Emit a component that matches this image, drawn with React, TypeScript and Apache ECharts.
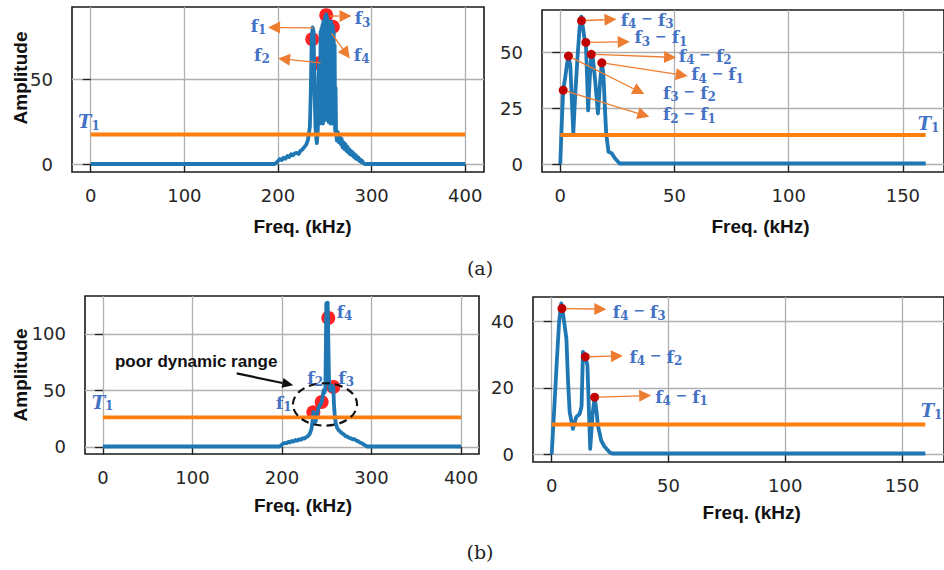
import React, { useEffect, useRef } from "react";
import * as echarts from "echarts";

// ---------------- data ----------------
// (a) left : received spectrum, 4 tones
const freqA1 = [0, 196, 198, 200, 202, 204, 206, 208, 210, 212, 214, 216, 218, 220, 222, 224, 226, 228, 230, 232, 234, 235, 236, 237, 238, 239, 240, 241, 241.5, 242.5, 243, 243.6, 244, 244.5, 245, 245.5, 246, 246.5, 247, 247.5, 248, 248.5, 249, 249.5, 250, 250.5, 251, 251.5, 252, 252.5, 253, 253.5, 254, 254.5, 255, 255.5, 256, 256.5, 257, 257.5, 258, 258.6, 259, 259.5, 260, 260.5, 261, 261.5, 262, 263, 264, 265, 266, 267, 268, 269, 270, 271, 272, 273, 274, 275, 276, 277, 278, 279, 280, 281, 282, 283, 284, 285, 286, 287, 288, 289, 290, 291, 293, 400];
const ampA1 = [0.3, 0.3, 0.8, 2, 3.2, 2.6, 4, 3.4, 5, 4.4, 6, 5.4, 6.6, 6.8, 6.2, 8, 8.8, 10.2, 11.5, 14.5, 22, 42, 74, 80.5, 78, 45, 22, 15, 12.5, 20, 45, 59.4, 38, 24, 30, 78, 26, 80, 28, 82, 24, 84, 30, 85, 26, 87, 32, 88, 28, 86, 30, 84, 25, 83, 28, 82, 24, 84, 27, 82, 24, 81, 30, 78, 24, 70, 20, 45, 18, 14, 19, 13, 17, 12, 15, 10, 13, 9, 12, 8, 10.5, 7, 9, 6, 8, 5.5, 7, 4.5, 6, 3.5, 5, 3, 4, 2, 3, 1.5, 2, 0.8, 0.3, 0.3];

// (a) right : mixing products
const freqA2 = [0, 0.6, 1.3, 2.2, 3, 3.6, 4.4, 5, 5.7, 6.5, 7.5, 8.4, 9.2, 9.9, 10.6, 11.2, 11.7, 12.2, 12.9, 13.6, 14.3, 15.3, 16.5, 17.4, 18.2, 18.9, 19.5, 20.1, 21.1, 22.5, 24, 26, 160];
const ampA2 = [0, 17, 33, 39, 45, 48.2, 44, 30, 13.8, 30, 47, 60, 65.8, 61, 56, 54.3, 40, 24, 38, 49, 47, 37, 22.6, 36, 45.2, 40, 26, 13.8, 5.5, 4.9, 2.5, 0.3, 0.3];

// (b) left : received spectrum, poor dynamic range
const freqB1 = [0, 197, 199, 201, 203, 205, 207, 209, 211, 213, 215, 217, 219, 221, 223, 225, 227, 229, 231, 233, 234.5, 235, 236.5, 237.5, 239, 241, 242.5, 244.3, 245.5, 246.5, 247.5, 248.5, 249.5, 251, 252.5, 254, 255.5, 257.3, 258, 259, 260, 261.5, 263, 265, 267, 269, 271, 273, 275, 277, 279, 281, 283, 285, 287, 289, 291, 293, 295, 400];
const ampB1 = [0.3, 0.3, 1.2, 2.8, 3.4, 3, 4.4, 3.9, 5.2, 4.6, 6, 5.4, 6.6, 6.2, 7.6, 7.2, 8.6, 9.4, 11.5, 16, 25, 30.6, 27, 22, 29, 35, 37, 39.6, 45, 50, 48, 52, 127, 127.5, 58, 50, 54, 53, 38, 27, 21, 17, 15, 13.5, 12, 11, 9.5, 9, 8, 7.5, 6.5, 6.8, 5.5, 5, 3.8, 3.2, 2.2, 1.2, 0.3, 0.3];

// (b) right : mixing products
const freqB2 = [0, 1.2, 2.2, 3.2, 4.1, 4.9, 6.3, 7, 7.7, 9.1, 10.5, 12, 12.8, 13.4, 14.4, 15.3, 16.5, 17.5, 18.4, 19.2, 19.8, 21.2, 22.5, 24.8, 26, 160];
const ampB2 = [0, 15, 28, 40, 45.3, 42, 34.8, 22, 12.7, 7.7, 11.2, 12.2, 14.5, 30.8, 29.3, 26.8, 1.7, 12, 17.2, 13, 8.7, 4.2, 2.5, 0.7, 0.3, 0.3];

// detected peaks
const peakFreqA1 = [236.6, 243.6, 251.5, 258.6];
const peakAmpA1 = [73.5, 59.4, 87.6, 80.8];
const mixFreqA2 = [1.3, 3.6, 9.3, 11.2, 13.6, 18.2];
const mixAmpA2 = [33, 48.2, 64, 54.3, 49, 45.2];
const mixNameA2 = [[2, 1], [3, 2], [4, 3], [3, 1], [4, 2], [4, 1]];
const peakFreqB1 = [235, 244.3, 257.3, 251.7];
const peakAmpB1 = [30.6, 39.6, 53, 114];
const mixFreqB2 = [4.4, 14.4, 18.4];
const mixAmpB2 = [43.8, 29.3, 17.2];
const mixNameB2 = [[4, 3], [4, 2], [4, 1]];

const thresholds = [17.6, 13, 26, 9];
const spanMax = [400, 160, 400, 160];

const xTicksWide = [0, 100, 200, 300, 400];
const xTicksNarrow = [0, 50, 100, 150];
const yTicksA1 = [0, 50];
const yTicksA2 = [0, 25, 50];
const yTicksB1 = [0, 50, 100];
const yTicksB2 = [0, 20, 40];

// ---------------- layout / style ----------------
const GRIDS = [
  { left: 72, top: 7, width: 412, height: 165 },
  { left: 542, top: 10, width: 410, height: 162 },
  { left: 85, top: 296, width: 394, height: 158 },
  { left: 533, top: 297, width: 412, height: 165 },
];
const XR = [[-20, 420], [-8, 168], [-20, 420], [-8, 168]];
const YR = [[-4.4, 92.4], [-3.5, 68.75], [-6.35, 133.4], [-2.25, 47.25]];
const XT = [xTicksWide, xTicksNarrow, xTicksWide, xTicksNarrow];
const YT = [yTicksA1, yTicksA2, yTicksB1, yTicksB2];

const BLUE = "#1f77b4";
const ORANGE = "#ff7f0e";
const ANN = "#ed7d31";
const LBL = "#4472c4";
const SERIF = "DejaVu Serif";

// annotation placements (data coordinates of each panel)
const annA1 = [
  { from: [237.5, 80.2], to: [189.4, 80.4], lab: [187.7, 80.8], align: "right", n: 1 },
  { from: [245.4, 59.6], to: [200.1, 62.2], lab: [191.2, 63.7], align: "right", n: 2 },
  { from: [255.3, 87.1], to: [278.5, 87.1], lab: [282, 85.3], align: "left", n: 3 },
  { from: [257.2, 76.9], to: [276.7, 62.2], lab: [281, 63.7], align: "left", n: 4 },
];
const annA2 = [
  { m: 2, to: [24.6, 64.6], lab: [26.5, 63.9] },
  { m: 3, to: [30.4, 54.6], lab: [32.5, 56.1] },
  { m: 4, to: [50.7, 47.6], lab: [51.9, 47.9] },
  { m: 5, to: [55.8, 39.3], lab: [57.3, 39.7] },
  { m: 1, to: [36.8, 31.25], lab: [45, 31.4] },
  { m: 0, to: [39, 21.1], lab: [45, 21.9] },
];
const annB2 = [
  { m: 0, to: [23.4, 43.6], lab: [26.2, 42.6] },
  { m: 1, to: [30.5, 29.6], lab: [33.3, 29.1] },
  { m: 2, to: [42.6, 17.7], lab: [44.3, 17.05] },
];
const labB1 = [[193.3, 38.1], [228.3, 60.4], [262.9, 60.4], [261.1, 118.5]];
const ellipseB1 = { c: [248, 37.5], hw: 35.8, hh: 18.75 };
const poorText = [13.4, 75.9];
const poorArrow = { from: [149.4, 64.9], to: [212.6, 54.5] };
const t1Pos = [[-13.6, 24.9], [156.5, 17.9], [-12.6, 39], [158, 13]];

const RICH: any = {
  f: { fontFamily: SERIF, fontWeight: "bold", fontSize: 17, fill: LBL, lineHeight: 19, verticalAlign: "top" },
  s: { fontFamily: SERIF, fontWeight: "bold", fontSize: 12, fill: LBL, lineHeight: 13, verticalAlign: "bottom" },
  m: { fontFamily: SERIF, fontWeight: "bold", fontSize: 14, fill: LBL, lineHeight: 19, verticalAlign: "top" },
  t: { fontFamily: SERIF, fontWeight: "bold", fontStyle: "italic", fontSize: 18, fill: LBL, lineHeight: 19, verticalAlign: "top" },
};

const pairs = (xs: number[], ys: number[]) => xs.map((x, i) => [x, ys[i]]);

function arrow(p0: number[], p1: number[], color: string, w: number, hl: number, hh: number, z: number, skip = 0) {
  const dx = p1[0] - p0[0];
  const dy = p1[1] - p0[1];
  const L = Math.hypot(dx, dy);
  const ux = dx / L;
  const uy = dy / L;
  const sx = p0[0] + ux * skip;
  const sy = p0[1] + uy * skip;
  const bx = p1[0] - ux * hl;
  const by = p1[1] - uy * hl;
  return [
    { type: "line", z, silent: true, shape: { x1: sx, y1: sy, x2: bx, y2: by }, style: { stroke: color, lineWidth: w } },
    {
      type: "polygon", z, silent: true,
      shape: { points: [[p1[0], p1[1]], [bx - uy * hh, by + ux * hh], [bx + uy * hh, by - ux * hh]] },
      style: { fill: color },
    },
  ];
}

function fText(p: number[], text: string, align: string) {
  return { type: "text", z: 20, silent: true, x: p[0], y: p[1], style: { text, rich: RICH, align, verticalAlign: "middle" } };
}

export default function App() {
  const ref = useRef<HTMLDivElement>(null);

  useEffect(() => {
    document.body.style.margin = "0";
    const chart = echarts.init(ref.current!, null, { renderer: "svg" });

    const seriesData = [pairs(freqA1, ampA1), pairs(freqA2, ampA2), pairs(freqB1, ampB1), pairs(freqB2, ampB2)];
    const markerData = [pairs(peakFreqA1, peakAmpA1), pairs(mixFreqA2, mixAmpA2), pairs(peakFreqB1, peakAmpB1), pairs(mixFreqB2, mixAmpB2)];

    const series: any[] = [];
    for (let g = 0; g < 4; g++) {
      const left = g % 2 === 0;
      series.push({
        type: "scatter", xAxisIndex: g, yAxisIndex: g, data: markerData[g], silent: true,
        symbolSize: left ? 14 : 9, z: left ? 2 : 6,
        itemStyle: { color: left ? "#ff1010" : "#c00000", opacity: left ? 0.92 : 1 },
      });
      series.push({
        type: "line", xAxisIndex: g, yAxisIndex: g, data: seriesData[g], silent: true,
        showSymbol: false, symbol: "none", z: 3,
        lineStyle: { color: BLUE, width: 3.8, join: "round" },
      });
      series.push({
        type: "line", xAxisIndex: g, yAxisIndex: g, silent: true,
        data: [[0, thresholds[g]], [spanMax[g], thresholds[g]]],
        showSymbol: false, symbol: "none", z: 4,
        lineStyle: { color: ORANGE, width: 3.8 },
      });
    }

    const axisFont = { fontSize: 18, fontFamily: "DejaVu Sans", color: "#262626" };
    const boldSans = 'bold 19px "Liberation Sans", Arial, sans-serif';

    const staticGraphic: any[] = [
      { type: "text", x: 302.5, y: 226, style: { text: "Freq. (kHz)", font: boldSans, fill: "#111", align: "center", verticalAlign: "middle" } },
      { type: "text", x: 760.5, y: 226, style: { text: "Freq. (kHz)", font: boldSans, fill: "#111", align: "center", verticalAlign: "middle" } },
      { type: "text", x: 303, y: 505, style: { text: "Freq. (kHz)", font: boldSans, fill: "#111", align: "center", verticalAlign: "middle" } },
      { type: "text", x: 751.7, y: 512.5, style: { text: "Freq. (kHz)", font: boldSans, fill: "#111", align: "center", verticalAlign: "middle" } },
      { type: "text", x: 20.5, y: 78, rotation: Math.PI / 2, style: { text: "Amplitude", font: boldSans, fill: "#111", align: "center", verticalAlign: "middle" } },
      { type: "text", x: 20.5, y: 375, rotation: Math.PI / 2, style: { text: "Amplitude", font: boldSans, fill: "#111", align: "center", verticalAlign: "middle" } },
      { type: "text", x: 480, y: 268, style: { text: "(a)", font: '19px "DejaVu Serif", serif', fill: "#222", align: "center", verticalAlign: "middle" } },
      { type: "text", x: 480, y: 552, style: { text: "(b)", font: '19px "DejaVu Serif", serif', fill: "#222", align: "center", verticalAlign: "middle" } },
    ];

    chart.setOption({
      animation: false,
      grid: GRIDS.map((r) => ({ ...r, show: true, borderColor: "#1a1a1a", borderWidth: 1.6, backgroundColor: "transparent" })),
      xAxis: GRIDS.map((_, g) => ({
        type: "value", gridIndex: g, min: XR[g][0], max: XR[g][1],
        axisLine: { show: false },
        axisTick: { show: true, length: 8, lineStyle: { color: "#222", width: 1.3 }, customValues: XT[g] },
        axisLabel: { ...axisFont, margin: 14, customValues: XT[g] },
        splitLine: { show: true, lineStyle: { color: "#b0b0b0", width: 1.3 } },
      })),
      yAxis: GRIDS.map((_, g) => ({
        type: "value", gridIndex: g, min: YR[g][0], max: YR[g][1],
        axisLine: { show: false },
        axisTick: { show: true, length: 8, lineStyle: { color: "#222", width: 1.3 }, customValues: YT[g] },
        axisLabel: { ...axisFont, margin: 19, customValues: YT[g] },
        splitLine: { show: true, lineStyle: { color: "#b0b0b0", width: 1.3 } },
      })),
      series,
      graphic: { elements: staticGraphic },
    });

    const P = (g: number, p: number[]) => chart.convertToPixel({ gridIndex: g } as any, p) as number[];
    const els: any[] = [...staticGraphic];

    // (a) left
    annA1.forEach((a) => {
      els.push(...arrow(P(0, a.from), P(0, a.to), ANN, 1.3, 12, 6, 10));
      els.push(fText(P(0, a.lab), `{f|f}{s|${a.n}}`, a.align));
    });
    // (a) right
    annA2.forEach((a) => {
      const mk = markerData[1][a.m];
      els.push(...arrow(P(1, mk), P(1, a.to), ANN, 1.3, 12, 6, 10, 4));
      const nm = mixNameA2[a.m];
      els.push(fText(P(1, a.lab), `{f|f}{s|${nm[0]}}{m| − }{f|f}{s|${nm[1]}}`, "left"));
    });
    // (b) left
    labB1.forEach((p, i) => els.push(fText(P(2, p), `{f|f}{s|${i + 1}}`, "left")));
    {
      const c = P(2, ellipseB1.c);
      const e = P(2, [ellipseB1.c[0] + ellipseB1.hw, ellipseB1.c[1] + ellipseB1.hh]);
      els.push({
        type: "ellipse", z: 15, silent: true,
        shape: { cx: c[0], cy: c[1], rx: Math.abs(e[0] - c[0]), ry: Math.abs(e[1] - c[1]) },
        style: { fill: "none", stroke: "#111", lineWidth: 2.2, lineDash: [8, 5] },
      });
      const tp = P(2, poorText);
      els.push({
        type: "text", z: 20, silent: true, x: tp[0], y: tp[1],
        style: { text: "poor dynamic range", font: 'bold 17px "Liberation Sans", Arial, sans-serif', fill: "#111", align: "left", verticalAlign: "middle" },
      });
      els.push(...arrow(P(2, poorArrow.from), P(2, poorArrow.to), "#111", 2.2, 11, 5, 16));
    }
    // (b) right
    annB2.forEach((a) => {
      const mk = markerData[3][a.m];
      els.push(...arrow(P(3, mk), P(3, a.to), ANN, 1.3, 12, 6, 10, 4));
      const nm = mixNameB2[a.m];
      els.push(fText(P(3, a.lab), `{f|f}{s|${nm[0]}}{m| − }{f|f}{s|${nm[1]}}`, "left"));
    });
    // T1 labels
    t1Pos.forEach((p, g) => els.push(fText(P(g, p), "{t|T}{s|1}", "left")));

    chart.setOption({ graphic: { elements: els } });

    return () => chart.dispose();
  }, []);

  return <div ref={ref} style={{ width: 944, height: 570, position: "absolute", left: 0, top: 0 }} />;
}
